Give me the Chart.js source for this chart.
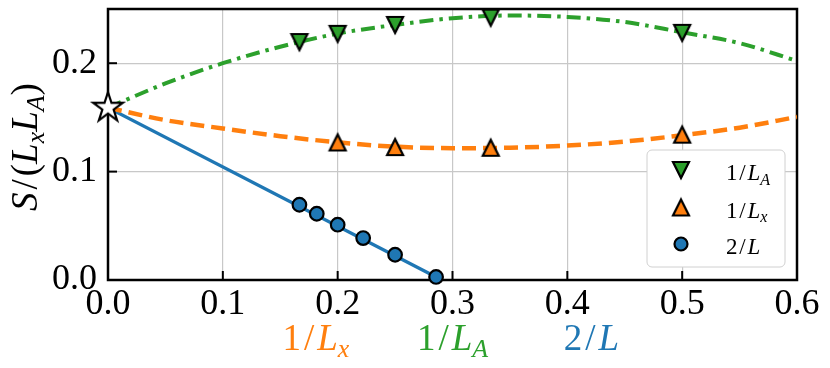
<!DOCTYPE html>
<html>
<head>
<meta charset="utf-8">
<script src="https://cdn.jsdelivr.net/npm/chart.js@4.4.0/dist/chart.umd.min.js"></script>
<style>
  html, body { margin: 0; padding: 0; background: #fff; }
  #wrap { width: 830px; height: 368px; }
</style>
</head>
<body>
<div id="wrap"><canvas id="c" width="830" height="368"></canvas></div>
<script>
// ── DATA ─────────────────────────────────────────────────────
var xCurve       = [0, 0.05, 0.1, 0.15, 0.2, 0.25, 0.3, 0.35, 0.4, 0.45, 0.5, 0.55, 0.6];
var yCurveA      = [0.159, 0.1813, 0.200, 0.2152, 0.2273, 0.2353, 0.2415, 0.2440, 0.2427, 0.2380, 0.2285, 0.2185, 0.2021];
var yCurveX      = [0.159, 0.1475, 0.1398, 0.1327, 0.1270, 0.1230, 0.1216, 0.1220, 0.1240, 0.1277, 0.1335, 0.1405, 0.1505];

var xPtsA = [0.1667, 0.2, 0.25, 0.3333, 0.5];
var yPtsA = [0.2195, 0.2271, 0.2353, 0.2420, 0.2280];

var xPtsX = [0.2, 0.25, 0.3333, 0.5];
var yPtsX = [0.1269, 0.1226, 0.1220, 0.1341];

var xPtsL = [0.1667, 0.1818, 0.2, 0.2222, 0.25, 0.2857];
var yPtsL = [0.0694, 0.0611, 0.0510, 0.0387, 0.0233, 0.0028];
var xLineL = [0, 0.2857];
var yLineL = [0.159, 0.0028];

var xStar = [0];
var yStar = [0.159];

var xTickStep = 0.1;
var yTickStep = 0.1;

// ── STYLE ────────────────────────────────────────────────────
var BLUE = '#1f77b4', ORANGE = '#ff7f0e', GREEN = '#2ca02c';
var SERIF = '"Liberation Serif", "DejaVu Serif", serif';

function pts(xs, ys) {
  return xs.map(function (x, i) { return { x: x, y: ys[i] }; });
}

// ── MARKERS (matplotlib-like) ────────────────────────────────
function triMarker(fill, down) {
  var s = 8, n = 24, c = n / 2;
  var cv = document.createElement('canvas');
  cv.width = n; cv.height = n;
  var g = cv.getContext('2d');
  g.beginPath();
  if (down) { g.moveTo(c - s, c - s); g.lineTo(c + s, c - s); g.lineTo(c, c + s); }
  else { g.moveTo(c - s, c + s); g.lineTo(c + s, c + s); g.lineTo(c, c - s); }
  g.closePath();
  g.fillStyle = fill; g.fill();
  g.lineWidth = 2.2; g.lineJoin = 'miter'; g.strokeStyle = '#000'; g.stroke();
  return cv;
}

function starMarker() {
  var R = 15.5, r = R * 0.382, n = 40, c = n / 2;
  var cv = document.createElement('canvas');
  cv.width = n; cv.height = n;
  var g = cv.getContext('2d');
  g.beginPath();
  for (var k = 0; k < 10; k++) {
    var a = -Math.PI / 2 + k * Math.PI / 5;
    var rr = k % 2 ? r : R;
    var px = c + rr * Math.cos(a), py = c + rr * Math.sin(a);
    if (k === 0) g.moveTo(px, py); else g.lineTo(px, py);
  }
  g.closePath();
  g.fillStyle = '#fff'; g.fill();
  g.lineWidth = 2.2; g.lineJoin = 'miter'; g.strokeStyle = '#000'; g.stroke();
  return cv;
}

var mDown = triMarker(GREEN, true);
var mUp = triMarker(ORANGE, false);
var mStar = starMarker();

// ── MATH TEXT ────────────────────────────────────────────────
// parts: [text, italic, subscript]
function mathFont(size, it) { return (it ? 'italic ' : '') + size + 'px ' + SERIF; }

function mathWidth(ctx, parts, size) {
  var w = 0;
  parts.forEach(function (p) {
    ctx.font = mathFont(p[2] ? size * 0.7 : size, p[1]);
    w += ctx.measureText(p[0]).width + (p[0] === '/' ? size * 0.16 : 0);
  });
  return w;
}

function drawMath(ctx, parts, x, y, size, color, align) {
  var w = mathWidth(ctx, parts, size);
  var cx = align === 'center' ? x - w / 2 : x;
  ctx.save();
  ctx.fillStyle = color;
  ctx.textBaseline = 'alphabetic';
  ctx.textAlign = 'left';
  parts.forEach(function (p) {
    var sz = p[2] ? size * 0.7 : size;
    ctx.font = mathFont(sz, p[1]);
    var pad = p[0] === '/' ? size * 0.08 : 0;
    cx += pad;
    ctx.fillText(p[0], cx, y + (p[2] ? size * 0.2 : 0));
    cx += ctx.measureText(p[0]).width + pad;
  });
  ctx.restore();
}

var lblA = [['1', false], ['/', false], ['L', true], ['A', true, true]];
var lblX = [['1', false], ['/', false], ['L', true], ['x', true, true]];
var lblL = [['2', false], ['/', false], ['L', true]];
var lblY = [['S', true], ['/', false], ['(', false], ['L', true], ['x', true, true], ['L', true], ['A', true, true], [')', false]];

// ── PLUGINS ──────────────────────────────────────────────────
var framePlugin = {
  id: 'frame',
  beforeDatasetsDraw: function (chart) {
    var ctx = chart.ctx, a = chart.chartArea;
    var xs = chart.scales.x, ys = chart.scales.y;
    ctx.save();
    ctx.strokeStyle = '#000';
    ctx.lineWidth = 2;
    xs.ticks.forEach(function (t) {
      var px = xs.getPixelForValue(t.value);
      ctx.beginPath(); ctx.moveTo(px, a.bottom); ctx.lineTo(px, a.bottom - 9); ctx.stroke();
    });
    ys.ticks.forEach(function (t) {
      var py = ys.getPixelForValue(t.value);
      ctx.beginPath(); ctx.moveTo(a.left, py); ctx.lineTo(a.left + 9, py); ctx.stroke();
    });
    ctx.lineWidth = 2.5;
    ctx.strokeRect(a.left, a.top, a.right - a.left, a.bottom - a.top);
    ctx.restore();
  },
  afterDatasetsDraw: function (chart) {
    var ctx = chart.ctx, xs = chart.scales.x;
    // legend box
    var bx = 647, by = 150, bw = 138, bh = 117, r = 5;
    ctx.save();
    ctx.beginPath();
    ctx.moveTo(bx + r, by);
    ctx.arcTo(bx + bw, by, bx + bw, by + bh, r);
    ctx.arcTo(bx + bw, by + bh, bx, by + bh, r);
    ctx.arcTo(bx, by + bh, bx, by, r);
    ctx.arcTo(bx, by, bx + bw, by, r);
    ctx.closePath();
    ctx.fillStyle = '#fff'; ctx.fill();
    ctx.strokeStyle = '#d0d0d0'; ctx.lineWidth = 1; ctx.stroke();
    var mx = 681, tx = 726, rows = [170, 207.5, 244];
    ctx.drawImage(mDown, mx - mDown.width / 2, rows[0] - mDown.height / 2);
    ctx.drawImage(mUp, mx - mUp.width / 2, rows[1] - mUp.height / 2);
    ctx.beginPath(); ctx.arc(mx, rows[2], 6.5, 0, Math.PI * 2);
    ctx.fillStyle = BLUE; ctx.fill(); ctx.lineWidth = 2.2; ctx.strokeStyle = '#000'; ctx.stroke();
    drawMath(ctx, lblA, tx, rows[0] + 10, 23, '#000', 'left');
    drawMath(ctx, lblX, tx, rows[1] + 10, 23, '#000', 'left');
    drawMath(ctx, lblL, tx, rows[2] + 10, 23, '#000', 'left');
    ctx.restore();

    // coloured labels under the x axis
    drawMath(ctx, lblX, xs.getPixelForValue(0.181), 350, 37, ORANGE, 'center');
    drawMath(ctx, lblA, xs.getPixelForValue(0.300), 350, 37, GREEN, 'center');
    drawMath(ctx, lblL, xs.getPixelForValue(0.421), 350, 37, BLUE, 'center');

    // y axis title
    ctx.save();
    ctx.translate(37, 147);
    ctx.rotate(-Math.PI / 2);
    drawMath(ctx, lblY, 0, 0, 37, '#000', 'center');
    ctx.restore();
  }
};

// ── CHART ────────────────────────────────────────────────────
var tickFont = { family: SERIF, size: 36 };

new Chart(document.getElementById('c'), {
  type: 'scatter',
  data: {
    datasets: [
      { data: pts(xStar, yStar), pointStyle: mStar, pointRadius: 8, clip: false },
      { data: pts(xPtsA, yPtsA), pointStyle: mDown, pointRadius: 8, clip: false },
      { data: pts(xPtsX, yPtsX), pointStyle: mUp, pointRadius: 8, clip: false },
      { data: pts(xPtsL, yPtsL), pointStyle: 'circle', pointRadius: 6.8, borderWidth: 2.2,
        backgroundColor: BLUE, borderColor: '#000', clip: false },
      { data: pts(xCurve, yCurveA), showLine: true, pointRadius: 0, borderColor: GREEN,
        borderWidth: 4, borderDash: [14, 6, 3.5, 6], cubicInterpolationMode: 'monotone' },
      { data: pts(xCurve, yCurveX), showLine: true, pointRadius: 0, borderColor: ORANGE,
        borderWidth: 4.5, borderDash: [14, 7], cubicInterpolationMode: 'monotone' },
      { data: pts(xLineL, yLineL), showLine: true, pointRadius: 0, borderColor: BLUE,
        borderWidth: 3.4 }
    ]
  },
  options: {
    responsive: false,
    animation: false,
    devicePixelRatio: 1,
    layout: { padding: { left: 0, right: 33, top: 9, bottom: 0 } },
    plugins: { legend: { display: false }, tooltip: { enabled: false } },
    scales: {
      x: {
        type: 'linear', min: 0, max: 0.6,
        ticks: { stepSize: xTickStep, font: tickFont, color: '#000', padding: 3, maxRotation: 0, autoSkip: false,
          callback: function (v) { return v.toFixed(1); } },
        grid: { color: '#c8c8c8', lineWidth: 1.2, drawTicks: false },
        border: { display: false },
        afterFit: function (s) { s.height = 88; s.paddingLeft = 0; s.paddingRight = 0; }
      },
      y: {
        min: 0, max: 0.25,
        ticks: { stepSize: yTickStep, includeBounds: false, font: tickFont, color: '#000', padding: 11,
          callback: function (v) { return v.toFixed(1); } },
        grid: { color: '#c8c8c8', lineWidth: 1.2, drawTicks: false },
        border: { display: false },
        afterFit: function (s) { s.width = 108; s.paddingTop = 0; s.paddingBottom = 0; }
      }
    }
  },
  plugins: [framePlugin]
});
</script>
</body>
</html>
